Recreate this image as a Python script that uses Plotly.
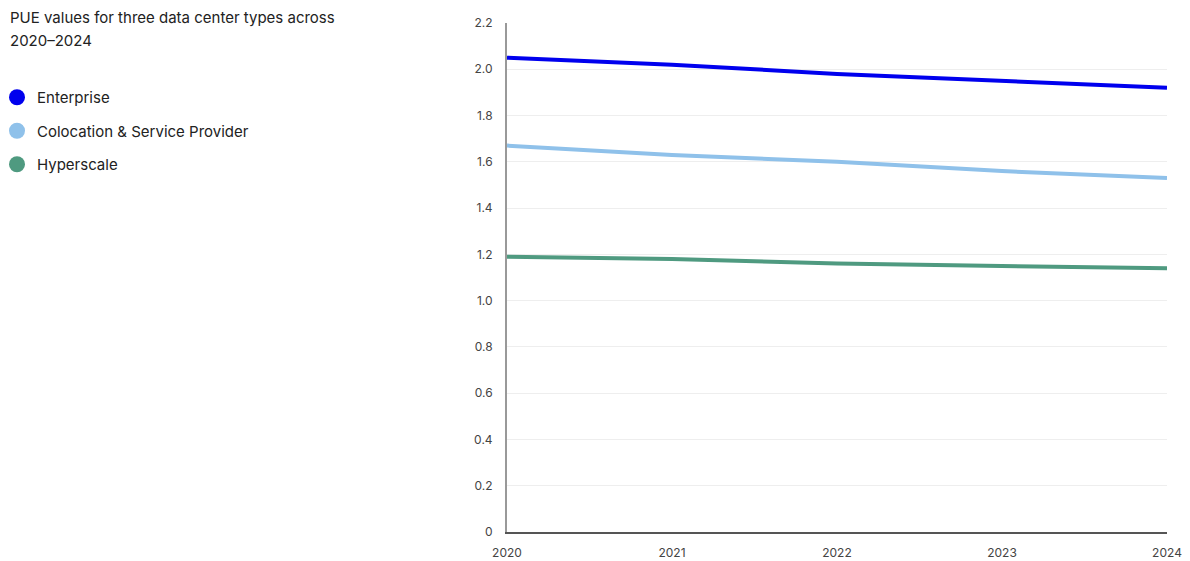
import plotly.graph_objects as go

# PUE values by data center type, 2020-2024
years = [2020, 2021, 2022, 2023, 2024]
enterprise = [2.05, 2.02, 1.98, 1.95, 1.92]
colocation = [1.67, 1.63, 1.60, 1.56, 1.53]
hyperscale = [1.19, 1.18, 1.16, 1.15, 1.14]

series_names = ["Enterprise", "Colocation & Service Provider", "Hyperscale"]
series_values = [enterprise, colocation, hyperscale]
series_colors = ["#0000ee", "#8fc1ea", "#4f9a80"]

y_ticks = [0, 0.2, 0.4, 0.6, 0.8, 1.0, 1.2, 1.4, 1.6, 1.8, 2.0, 2.2]
y_tick_text = ["0", "0.2", "0.4", "0.6", "0.8", "1.0", "1.2", "1.4", "1.6", "1.8", "2.0", "2.2"]

title_lines = ["PUE values for three data center types across", "2020\u20132024"]

FONT = "Inter, Roboto, 'Noto Sans', sans-serif"

W, H = 1190, 561
ML, MR, MT, MB = 507, 23, 23, 29
PW, PH = W - ML - MR, H - MT - MB


def px_x(px):
    """Horizontal pixel -> paper coordinate."""
    return (px - ML) / PW


def px_y(py):
    """Vertical pixel (from top) -> paper coordinate."""
    return (H - MB - py) / PH


fig = go.Figure()

for name, vals, color in zip(series_names, series_values, series_colors):
    # the line itself
    fig.add_trace(go.Scatter(
        x=years, y=vals, mode="lines", name=name,
        line=dict(color=color, width=4),
        showlegend=False, legendgroup=name,
        hovertemplate="%{x}: %{y}<extra>" + name + "</extra>",
    ))
    # legend entry drawn as a filled circle
    fig.add_trace(go.Scatter(
        x=[None], y=[None], mode="markers", name=name,
        marker=dict(color=color, size=16, symbol="circle"),
        showlegend=True, legendgroup=name,
    ))

# two-line heading in the top-left corner
for line, py in zip(title_lines, [18, 40]):
    fig.add_annotation(
        text=line, xref="paper", yref="paper",
        x=px_x(8), y=px_y(py), xanchor="left", yanchor="middle",
        showarrow=False, font=dict(size=15, color="#222222", family=FONT),
    )

fig.update_layout(
    width=W, height=H,
    margin=dict(l=ML, r=MR, t=MT, b=MB, autoexpand=False),
    paper_bgcolor="white", plot_bgcolor="white",
    font=dict(family=FONT, color="#333333"),
    legend=dict(
        x=px_x(-3), xanchor="left", y=px_y(81), yanchor="top",
        font=dict(size=15, color="#222222", family=FONT),
        traceorder="grouped", tracegroupgap=11,
        itemwidth=30, bgcolor="rgba(0,0,0,0)",
    ),
    xaxis=dict(
        range=[2020, 2024], tickvals=years, ticktext=[str(y) for y in years],
        showgrid=False, zeroline=False, automargin=False,
        showline=True, linecolor="#555555", linewidth=1.5,
        ticks="", tickfont=dict(size=12, color="#444444"),
        ticklabelstandoff=9,
    ),
    yaxis=dict(
        range=[0, 2.2], tickvals=y_ticks, ticktext=y_tick_text,
        showgrid=True, gridcolor="#eeeeee", gridwidth=1,
        zeroline=False, automargin=False,
        showline=True, linecolor="#999999", linewidth=2,
        ticks="", tickfont=dict(size=12, color="#444444"),
        ticklabelstandoff=10,
    ),
    hovermode="closest",
)

fig.write_html("out.html")
